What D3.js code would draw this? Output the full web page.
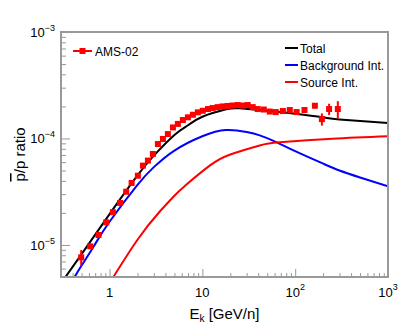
<!DOCTYPE html>
<meta charset="utf-8">
<script src="https://d3js.org/d3.v7.min.js"></script>
<style>
  body { margin: 0; background: #fff; }
  text { font-family: "Liberation Sans", Arial, Helvetica, sans-serif; }
</style>
<div id="chart"></div>
<script>

// AMS-02 antiproton / proton ratio vs kinetic energy
var amsEnergy = [0.495, 0.619, 0.761, 0.921, 1.086, 1.30, 1.51, 1.73, 2.02, 2.29, 2.59, 2.93,
  3.32, 3.76, 4.25, 4.82, 5.45, 6.17, 6.99, 7.91, 8.95, 10.1, 11.5, 12.9, 14.6, 16.5, 18.7,
  21.2, 24.0, 27.2, 30.8, 34.9, 39.5, 45.9, 53.3, 61.8, 73.7, 87.4, 103.6, 126, 163, 194, 232, 288];
var amsRatio = [7.65e-6, 9.7e-6, 1.24e-5, 1.63e-5, 2.03e-5, 2.48e-5, 3.16e-5, 3.82e-5, 4.47e-5,
  5.56e-5, 6.2e-5, 7.15e-5, 8.87e-5, 9.89e-5, 1.10e-4, 1.27e-4, 1.37e-4, 1.49e-4, 1.58e-4,
  1.67e-4, 1.76e-4, 1.82e-4, 1.89e-4, 1.93e-4, 1.97e-4, 2.0e-4, 2.02e-4, 2.04e-4, 2.06e-4,
  2.04e-4, 2.06e-4, 1.97e-4, 1.89e-4, 1.87e-4, 1.79e-4, 1.77e-4, 1.81e-4, 1.85e-4, 1.77e-4,
  1.85e-4, 2.03e-4, 1.52e-4, 1.89e-4, 1.89e-4];
var amsError = [1.3e-6, 5e-7, 5e-7, 6e-7, 7e-7, 8e-7, 1e-6, 1.2e-6, 1.4e-6, 1.7e-6, 1.9e-6, 2.2e-6,
  2.7e-6, 3e-6, 3.3e-6, 3.8e-6, 4.1e-6, 4.5e-6, 4.8e-6, 5e-6, 5.3e-6, 5.5e-6, 5.7e-6, 5.8e-6,
  5.9e-6, 6e-6, 6.1e-6, 6.2e-6, 6.3e-6, 6.3e-6, 6.5e-6, 6.5e-6, 6.5e-6, 6.6e-6, 6.6e-6, 7e-6,
  7.5e-6, 8e-6, 9e-6, 1.0e-5, 1.2e-5, 2.0e-5, 2.3e-5, 3.5e-5];

// model curves
var totalEnergy = [0.3, 0.335, 0.5, 1, 2, 3, 5, 7, 10, 18, 25, 50, 100, 200, 300, 1000];
var totalRatio = [4.38e-6, 5e-6, 8.2e-6, 1.95e-5, 4.5e-5, 6.9e-5, 1.08e-4, 1.33e-4, 1.6e-4, 1.88e-4,
  1.92e-4, 1.82e-4, 1.71e-4, 1.58e-4, 1.51e-4, 1.40e-4];
var bgEnergy = [0.35, 0.42, 0.5, 0.69, 1, 2, 3, 5, 10, 18, 30, 41.5, 60, 100, 200, 300, 500, 1000];
var bgRatio = [3.84e-6, 5e-6, 6.4e-6, 1e-5, 1.65e-5, 3.66e-5, 5.38e-5, 7.7e-5, 1.05e-4, 1.2e-4,
  1.15e-4, 1.07e-4, 9.4e-5, 7.6e-5, 5.8e-5, 5.0e-5, 4.3e-5, 3.55e-5];
var srcEnergy = [1.0, 1.1, 2, 3.46, 5, 6.7, 12, 20, 41.5, 68, 250, 1000];
var srcRatio = [4.4e-6, 5e-6, 1.12e-5, 2.05e-5, 2.9e-5, 3.68e-5, 5.56e-5, 7.07e-5, 8.6e-5, 9.2e-5,
  9.95e-5, 1.05e-4];

var xMajor = [1, 10, 100, 1000];
var xLabels = [["1", ""], ["10", ""], ["10", "2"], ["10", "3"]];
var yMajor = [1e-5, 1e-4, 1e-3];
var yLabels = [["10", "\u22125"], ["10", "\u22124"], ["10", "\u22123"]];

var margin = {top: 32, right: 20, bottom: 50, left: 61},
  width = 408 - margin.left - margin.right,
  height = 327 - margin.top - margin.bottom;

var svg = d3.select("#chart").append("svg")
  .attr("width", 408).attr("height", 327)
  .append("g")
  .attr("transform", "translate(" + margin.left + "," + margin.top + ")");

var x = d3.scaleLog().domain([0.3, 1000]).range([0, width]);
var y = d3.scaleLog().domain([5e-6, 1e-3]).range([height, 0]);

svg.append("clipPath").attr("id", "clip")
  .append("rect").attr("width", width).attr("height", height);

// minor ticks
var xMinor = [], yMinor = [];
[0.1, 1, 10, 100].forEach(function(d) {
  for (var i = 2; i <= 9; i++) if (d * i > 0.3 && d * i < 1000) xMinor.push(d * i);
});
[1e-6, 1e-5, 1e-4].forEach(function(d) {
  for (var i = 2; i <= 9; i++) if (d * i > 5e-6 && d * i < 1e-3) yMinor.push(d * i);
});

var axisColor = "#999";

function styleAxis(g) {
  g.select(".domain").remove();
  g.selectAll("line").attr("stroke", axisColor).attr("stroke-width", 1);
  g.selectAll("text").remove();
}

svg.append("g").attr("transform", "translate(0," + height + ")")
  .call(d3.axisBottom(x).tickValues(xMinor).tickSize(-4)).call(styleAxis);
svg.append("g").attr("transform", "translate(0," + height + ")")
  .call(d3.axisBottom(x).tickValues(xMajor).tickSize(-8)).call(styleAxis);
svg.append("g")
  .call(d3.axisLeft(y).tickValues(yMinor).tickSize(-5)).call(styleAxis);
svg.append("g")
  .call(d3.axisLeft(y).tickValues(yMajor).tickSize(-9)).call(styleAxis);

// tick labels
xMajor.forEach(function(d, i) {
  var t = svg.append("text")
    .attr("x", x(d)).attr("y", height + 20)
    .attr("text-anchor", "middle")
    .style("font-size", "13px");
  t.append("tspan").text(xLabels[i][0]);
  if (xLabels[i][1]) t.append("tspan").attr("dy", -7).style("font-size", "9px").text(xLabels[i][1]);
});
yMajor.forEach(function(d, i) {
  var t = svg.append("text")
    .attr("x", -6).attr("y", y(d) + 5)
    .attr("text-anchor", "end")
    .style("font-size", "13px");
  t.append("tspan").text(yLabels[i][0]);
  t.append("tspan").attr("dy", -6).style("font-size", "9px").text(yLabels[i][1]);
});

// axis titles
var xt = svg.append("text")
  .attr("x", width / 2).attr("y", height + 42)
  .attr("text-anchor", "middle").style("font-size", "15px");
xt.append("tspan").text("E");
xt.append("tspan").attr("dy", 3).style("font-size", "10px").text("k");
xt.append("tspan").attr("dy", -3).text(" [GeV/n]");

var yt = svg.append("text")
  .attr("transform", "translate(" + (-36) + "," + (height / 2) + ") rotate(-90)")
  .attr("text-anchor", "middle").style("font-size", "15px");
yt.append("tspan").style("text-decoration", "overline").text("p");
yt.append("tspan").text("/p ratio");

// curves (smooth spline in log-log space)
var line = d3.line()
  .x(function(d) { return x(d[0]); })
  .y(function(d) { return y(d[1]); })
  .curve(d3.curveNatural);

var curves = [
  {e: bgEnergy, r: bgRatio, color: "#0000ff"},
  {e: srcEnergy, r: srcRatio, color: "#ff0000"},
  {e: totalEnergy, r: totalRatio, color: "#000000"}
];

var plot = svg.append("g").attr("clip-path", "url(#clip)");

curves.forEach(function(c) {
  plot.append("path")
    .datum(d3.zip(c.e, c.r))
    .attr("d", line)
    .attr("fill", "none")
    .attr("stroke", c.color)
    .attr("stroke-width", 2);
});

// data points
var pts = d3.range(amsEnergy.length).map(function(i) {
  return {e: amsEnergy[i], r: amsRatio[i], err: amsError[i]};
});

plot.selectAll(".err")
  .data(pts).enter().append("line")
  .attr("x1", function(d) { return x(d.e); })
  .attr("x2", function(d) { return x(d.e); })
  .attr("y1", function(d) { return y(d.r + d.err); })
  .attr("y2", function(d) { return y(Math.max(d.r - d.err, 1e-7)); })
  .attr("stroke", "#ff0000").attr("stroke-width", 2);

plot.selectAll(".pt")
  .data(pts).enter().append("rect")
  .attr("x", function(d) { return x(d.e) - 3; })
  .attr("y", function(d) { return y(d.r) - 3; })
  .attr("width", 6).attr("height", 6)
  .attr("fill", "#ff0000");

// frame
svg.append("rect")
  .attr("width", width).attr("height", height)
  .attr("fill", "none").attr("stroke", axisColor).attr("stroke-width", 2);

// legends
var leg1 = svg.append("g").attr("transform", "translate(12,19)");
leg1.append("line").attr("x1", 0).attr("x2", 19).attr("stroke", "#ff0000").attr("stroke-width", 2);
leg1.append("rect").attr("x", 6.5).attr("y", -3).attr("width", 6).attr("height", 6).attr("fill", "#ff0000");
leg1.append("text").attr("x", 22).attr("y", 4.5).style("font-size", "12px").text("AMS-02");

var legItems = [
  {label: "Total", color: "#000000"},
  {label: "Background Int.", color: "#0000ff"},
  {label: "Source Int.", color: "#ff0000"}
];
var leg2 = svg.append("g").attr("transform", "translate(224,16)");
legItems.forEach(function(d, i) {
  var g = leg2.append("g").attr("transform", "translate(0," + (i * 17) + ")");
  g.append("line").attr("x1", 0).attr("x2", 13).attr("stroke", d.color).attr("stroke-width", 2);
  g.append("text").attr("x", 15).attr("y", 4.5).style("font-size", "12px").text(d.label);
});

</script>
